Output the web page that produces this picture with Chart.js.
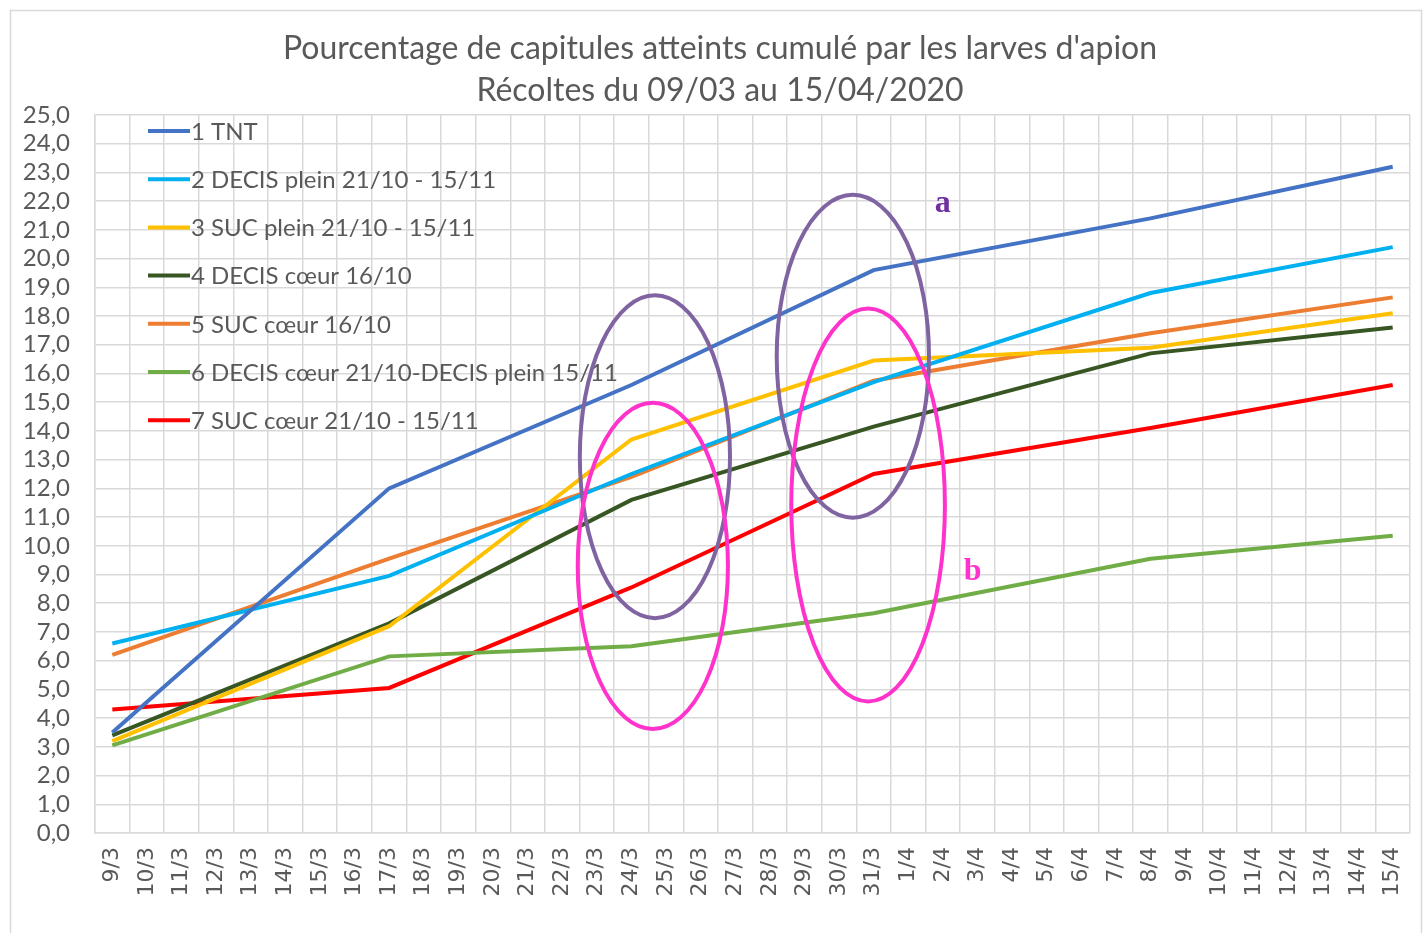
<!DOCTYPE html>
<html>
<head>
<meta charset="utf-8">
<script src="https://cdn.jsdelivr.net/npm/chart.js@4/dist/chart.umd.min.js"></script>
<style>
  html, body { margin: 0; padding: 0; background: #ffffff; }
  #wrap { width: 1424px; height: 933px; position: relative; }
</style>
</head>
<body>
<div id="wrap"><canvas id="chart" width="1424" height="933"></canvas></div>
<script>
const days = [
  "9/3", "10/3", "11/3", "12/3", "13/3", "14/3", "15/3", "16/3", "17/3", "18/3",
  "19/3", "20/3", "21/3", "22/3", "23/3", "24/3", "25/3", "26/3", "27/3", "28/3",
  "29/3", "30/3", "31/3", "1/4", "2/4", "3/4", "4/4", "5/4", "6/4", "7/4",
  "8/4", "9/4", "10/4", "11/4", "12/4", "13/4", "14/4", "15/4"
];
const sampleDates = ["9/3", "17/3", "24/3", "31/3", "8/4", "15/4"];

const seriesNames = [
  "1 TNT",
  "2 DECIS plein 21/10 - 15/11",
  "3 SUC plein 21/10 - 15/11",
  "4 DECIS cœur 16/10",
  "5 SUC cœur 16/10",
  "6 DECIS cœur 21/10-DECIS plein 15/11",
  "7 SUC cœur 21/10 - 15/11"
];
const seriesColors = ["#4472C4", "#00B0F0", "#FFC000", "#375623", "#ED7D31", "#70AD47", "#FF0000"];

const tnt = [3.5, 12.0, 15.6, 19.6, 21.4, 23.2];
const decisPlein = [6.6, 8.95, 12.5, 15.7, 18.8, 20.4];
const sucPlein = [3.2, 7.2, 13.7, 16.45, 16.9, 18.1];
const decisCoeur = [3.4, 7.3, 11.6, 14.15, 16.7, 17.6];
const sucCoeur = [6.2, 9.55, 12.4, 15.75, 17.4, 18.65];
const decisCoeurPlein = [3.05, 6.15, 6.5, 7.65, 9.55, 10.35];
const sucCoeur2110 = [4.3, 5.05, 8.55, 12.5, 14.1, 15.6];
const allSeries = [tnt, decisPlein, sucPlein, decisCoeur, sucCoeur, decisCoeurPlein, sucCoeur2110];

const yTicks = [0, 1, 2, 3, 4, 5, 6, 7, 8, 9, 10, 11, 12, 13, 14, 15, 16, 17, 18, 19, 20, 21, 22, 23, 24, 25];

const titleLines = [
  "Pourcentage de capitules atteints cumulé par les larves d'apion",
  "Récoltes du 09/03 au 15/04/2020"
];

// annotation ellipses: centre (category index, value), radii (categories, value units)
const ellipses = [
  { cx: 15.68, cy: 13.1, rx: 2.17, ry: 5.62, color: "#8064A2" },
  { cx: 15.62, cy: 9.3, rx: 2.17, ry: 5.68, color: "#FF33CC" },
  { cx: 21.4, cy: 16.6, rx: 2.2, ry: 5.62, color: "#8064A2" },
  { cx: 21.84, cy: 11.42, rx: 2.22, ry: 6.84, color: "#FF33CC" }
];
const letters = [
  { text: "a", x: 24.0, y: 21.9, color: "#7030A0" },
  { text: "b", x: 24.86, y: 9.1, color: "#FF33CC" }
];

const TEXT = "#595959";
const GRID = "#d9d9d9";

function toPoints(values) {
  return sampleDates.map((d, i) => ({ x: d, y: values[i] }));
}

const framePlugin = {
  id: "frame",
  beforeDraw(chart) {
    const ctx = chart.ctx;
    ctx.save();
    ctx.fillStyle = "#ffffff";
    ctx.fillRect(0, 0, chart.width, chart.height);
    ctx.strokeStyle = "#d9d9d9";
    ctx.lineWidth = 1.5;
    ctx.strokeRect(10.5, 10.5, 1411, 940);
    ctx.fillStyle = TEXT;
    ctx.font = "32px Lato";
    ctx.textAlign = "center";
    ctx.textBaseline = "alphabetic";
    ctx.fillText(titleLines[0], 720, 59);
    ctx.fillText(titleLines[1], 720, 101);
    ctx.restore();
  }
};

const overlayPlugin = {
  id: "overlay",
  afterDatasetsDraw(chart) {
    const ctx = chart.ctx;
    const xs = chart.scales.x;
    const ys = chart.scales.y;
    ctx.save();

    // legend inside the plot
    ctx.font = "24px Lato";
    ctx.textBaseline = "middle";
    ctx.textAlign = "left";
    seriesNames.forEach((name, i) => {
      const y = 131 + i * 48.2;
      ctx.strokeStyle = seriesColors[i];
      ctx.lineWidth = 4;
      ctx.beginPath();
      ctx.moveTo(148, y);
      ctx.lineTo(190, y);
      ctx.stroke();
      ctx.fillStyle = TEXT;
      ctx.fillText(name, 191, y + 1);
    });

    // ellipses
    ellipses.forEach(e => {
      const cx = xs.getPixelForValue(e.cx);
      const cy = ys.getPixelForValue(e.cy);
      const rx = Math.abs(xs.getPixelForValue(e.cx + e.rx) - cx);
      const ry = Math.abs(ys.getPixelForValue(e.cy + e.ry) - cy);
      ctx.strokeStyle = e.color;
      ctx.lineWidth = 4;
      ctx.beginPath();
      ctx.ellipse(cx, cy, rx, ry, 0, 0, Math.PI * 2);
      ctx.stroke();
    });

    ctx.font = "bold 32px 'Liberation Serif'";
    ctx.textAlign = "center";
    letters.forEach(l => {
      ctx.fillStyle = l.color;
      ctx.fillText(l.text, xs.getPixelForValue(l.x), ys.getPixelForValue(l.y));
    });
    ctx.restore();
  }
};

new Chart(document.getElementById("chart"), {
  type: "line",
  data: {
    labels: days,
    datasets: allSeries.map((values, i) => ({
      label: seriesNames[i],
      data: toPoints(values),
      borderColor: seriesColors[i],
      backgroundColor: seriesColors[i],
      borderWidth: 4,
      pointRadius: 0,
      tension: 0,
      spanGaps: true
    }))
  },
  options: {
    responsive: false,
    animation: false,
    layout: { padding: { top: 115, right: 14, left: 0, bottom: 0 } },
    plugins: {
      legend: { display: false },
      title: { display: false },
      tooltip: { enabled: false }
    },
    scales: {
      x: {
        offset: true,
        grid: { offset: true, color: GRID, lineWidth: 1.5, drawTicks: false },
        border: { color: GRID, width: 1.5 },
        ticks: {
          autoSkip: false,
          minRotation: 90,
          maxRotation: 90,
          padding: 14,
          color: TEXT,
          font: { family: "DejaVu Sans", size: 22 }
        },
        afterFit(scale) {
          scale.height = 100;
          scale.paddingLeft = 0;
          scale.paddingRight = 0;
        }
      },
      y: {
        min: 0,
        max: 25,
        afterBuildTicks(scale) { scale.ticks = yTicks.map(v => ({ value: v })); },
        grid: { color: GRID, lineWidth: 1.5, drawTicks: false },
        border: { color: GRID, width: 1.5 },
        ticks: {
          autoSkip: false,
          padding: 25,
          color: TEXT,
          font: { family: "Lato", size: 24 },
          callback: v => Number(v).toFixed(1).replace(".", ",")
        },
        afterFit(scale) {
          scale.width = 95;
          scale.paddingTop = 0;
          scale.paddingBottom = 0;
        }
      }
    }
  },
  plugins: [framePlugin, overlayPlugin]
});
</script>
</body>
</html>
